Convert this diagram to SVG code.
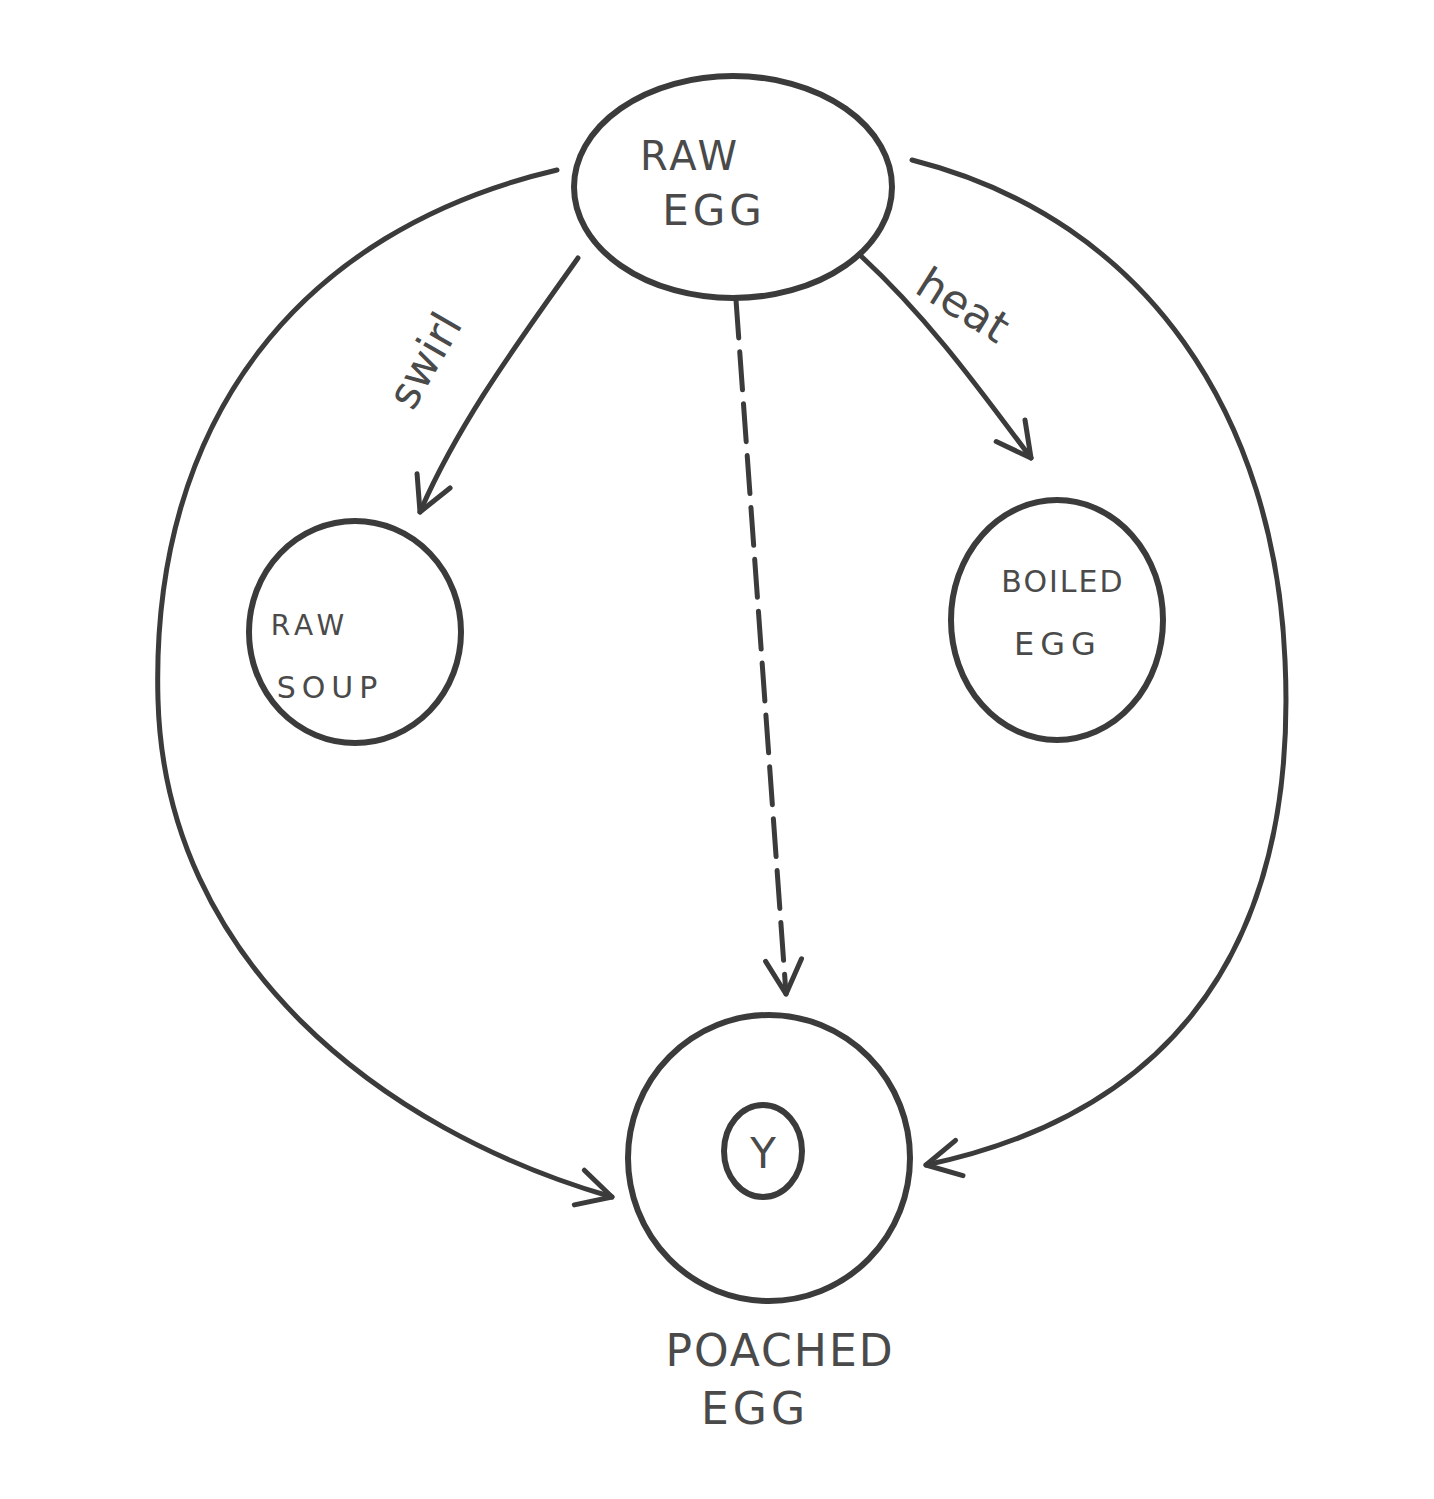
<svg xmlns="http://www.w3.org/2000/svg" width="1434" height="1499" viewBox="0 0 1434 1499">
<defs>
<style>
.node{fill:none;stroke:#3b3b3b;stroke-width:6}
.edge{fill:none;stroke:#3b3b3b;stroke-width:5;stroke-linecap:round}
.lbl{font-family:"DejaVu Sans","Liberation Sans",sans-serif;fill:#4a4a4a;font-weight:normal}
</style>
<marker id="arr" viewBox="0 0 20 20" refX="18" refY="10" markerWidth="20" markerHeight="20" markerUnits="userSpaceOnUse" orient="auto" overflow="visible">
<path d="M-16,-8 L18,10 L-16,28" fill="none" stroke="#3b3b3b" stroke-width="5" stroke-linecap="round" stroke-linejoin="round"/>
</marker>
</defs>
<rect width="1434" height="1499" fill="#ffffff"/>
<g id="connectors">
<path class="edge" d="M557,170 C300,230 150,420 158,700 C165,960 380,1130 612,1197" marker-end="url(#arr)"/>
<path class="edge" d="M912,160 C1150,220 1275,420 1285,660 C1300,980 1140,1120 926,1165" marker-end="url(#arr)"/>
<path class="edge" d="M578,258 C520,340 460,420 420,512" marker-end="url(#arr)"/>
<path class="edge" d="M861,256 C930,320 980,390 1031,458" marker-end="url(#arr)"/>
<path class="edge" d="M736,300 L786,994" stroke-width="7" stroke-dasharray="38,14" marker-end="url(#arr)"/>
</g>
<g id="raw-egg">
<ellipse class="node" cx="733" cy="187" rx="159" ry="111"/>
<text class="lbl" x="690" y="170" font-size="40" text-anchor="middle" letter-spacing="3">RAW</text>
<text class="lbl" x="714" y="225" font-size="42" text-anchor="middle" letter-spacing="4">EGG</text>
</g>
<g id="raw-soup">
<ellipse class="node" cx="355" cy="632" rx="106" ry="111"/>
<text class="lbl" x="310" y="635" font-size="28" text-anchor="middle" letter-spacing="5">RAW</text>
<text class="lbl" x="330" y="698" font-size="30" text-anchor="middle" letter-spacing="6">SOUP</text>
</g>
<g id="boiled-egg">
<ellipse class="node" cx="1057" cy="620" rx="106" ry="120"/>
<text class="lbl" x="1063" y="592" font-size="30" text-anchor="middle" letter-spacing="2">BOILED</text>
<text class="lbl" x="1058" y="655" font-size="32" text-anchor="middle" letter-spacing="6">EGG</text>
</g>
<g id="poached-egg">
<ellipse class="node" cx="769" cy="1158" rx="141" ry="143"/>
<ellipse class="node" cx="763" cy="1151" rx="39" ry="46" stroke-width="5"/>
<text class="lbl" x="763" y="1168" font-size="42" text-anchor="middle">Y</text>
<text class="lbl" x="780" y="1366" font-size="44" text-anchor="middle" letter-spacing="2">POACHED</text>
<text class="lbl" x="755" y="1424" font-size="44" text-anchor="middle" letter-spacing="4">EGG</text>
</g>
<g id="labels">
<text class="lbl" x="0" y="0" font-size="44" text-anchor="middle" transform="translate(438,368) rotate(-60)">swirl</text>
<text class="lbl" x="0" y="0" font-size="44" text-anchor="middle" transform="translate(955,318) rotate(32)">heat</text>
</g>
</svg>
